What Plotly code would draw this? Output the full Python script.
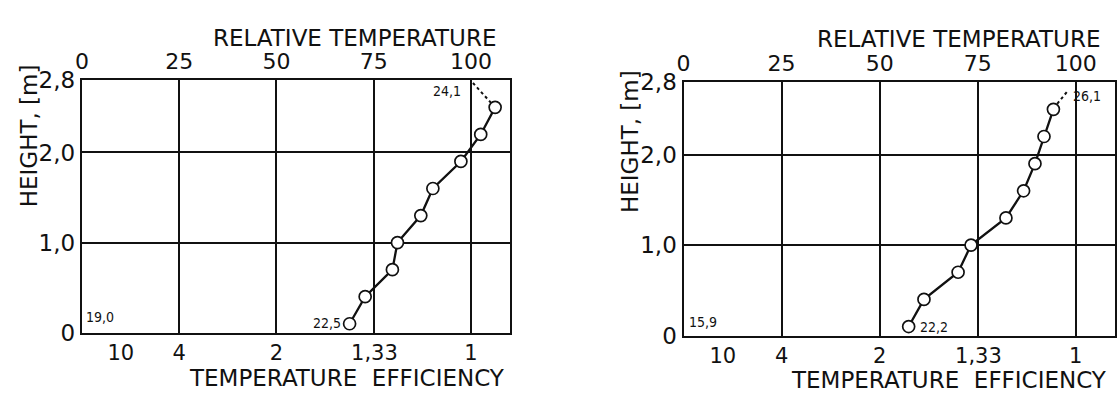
import plotly.graph_objects as go

# Measuring heights above the floor, m
heights = [0.1, 0.4, 0.7, 1.0, 1.3, 1.6, 1.9, 2.2, 2.5]

# Relative temperature profiles, %
left_rel_temp = [68.8, 72.8, 79.8, 81.1, 87.1, 90.2, 97.4, 102.5, 106.2]
right_rel_temp = [57.4, 61.3, 70.0, 73.3, 82.2, 86.7, 89.6, 91.9, 94.3]

# Dotted extension from the top measurement up toward the ceiling
left_ext_x = [106.2, 100.3]
left_ext_y = [2.5, 2.78]
right_ext_x = [94.3, 97.7]
right_ext_y = [2.51, 2.69]

# Axis ticks
rel_ticks = [0, 25, 50, 75, 100]
eff_ticks = [10, 4, 2, 1.33, 1]
eff_labels = ["10", "4", "2", "1,33", "1"]
height_ticks = [0, 1.0, 2.0, 2.8]
height_labels = ["0", "1,0", "2,0", "2,8"]

# Temperature readings written on the panels (°C)
left_notes = [("19,0", 0.6, 0.18, "left"), ("22,5", 67.1, 0.11, "right"), ("24,1", 98.0, 2.68, "right")]
right_notes = [("15,9", 0.8, 0.145, "left"), ("22,2", 59.8, 0.10, "left"), ("26,1", 98.7, 2.65, "left")]

FONT = "DejaVu Sans"
INK = "#111111"
W, H = 1117, 400
FS = 23

fig = go.Figure()

panels = [
    dict(rel=left_rel_temp, ext=(left_ext_x, left_ext_y), notes=left_notes,
         xdom=[75.5 / W, 507 / W], ydom=[1 - 342 / H, 1 - 72 / H],
         xa="x", xb="x2", ya="y"),
    dict(rel=right_rel_temp, ext=(right_ext_x, right_ext_y), notes=right_notes,
         xdom=[682 / W, 1.0], ydom=[1 - 345 / H, 1 - 74 / H],
         xa="x3", xb="x4", ya="y2"),
]

for p in panels:
    fig.add_trace(go.Scatter(
        x=p["ext"][0], y=p["ext"][1], mode="lines",
        line=dict(color=INK, width=2, dash="dot"),
        xaxis=p["xa"], yaxis=p["ya"], showlegend=False, hoverinfo="skip"))
    fig.add_trace(go.Scatter(
        x=p["rel"], y=heights, mode="lines+markers",
        line=dict(color=INK, width=2.3),
        marker=dict(symbol="circle", size=12, color="white",
                    line=dict(color=INK, width=1.7)),
        xaxis=p["xa"], yaxis=p["ya"], showlegend=False))
    # the efficiency scale shares the same profile; bind it so its axis is drawn
    fig.add_trace(go.Scatter(
        x=p["rel"], y=heights, mode="markers", marker=dict(opacity=0),
        xaxis=p["xb"], yaxis=p["ya"], showlegend=False, hoverinfo="skip"))
    for text, xv, yv, anchor in p["notes"]:
        fig.add_annotation(x=xv, y=yv, xref=p["xa"], yref=p["ya"], text=text,
                           showarrow=False, xanchor=anchor, yanchor="middle",
                           font=dict(family="DejaVu Sans Condensed", size=14, color=INK))

axis_common = dict(range=[0, 110], showline=True, linecolor=INK, linewidth=2.2,
                   ticks="", zeroline=False, fixedrange=True)

layout = dict(
    width=W, height=H, autosize=False,
    margin=dict(l=0, r=0, t=0, b=0),
    paper_bgcolor="white", plot_bgcolor="white",
    font=dict(family=FONT, size=FS, color=INK),
    showlegend=False,
)

for p, (top, bot, yname) in zip(panels, [("xaxis", "xaxis2", "yaxis"), ("xaxis3", "xaxis4", "yaxis2")]):
    layout[top] = dict(axis_common, domain=p["xdom"], side="top", anchor=p["ya"],
                       tickmode="array", tickvals=rel_ticks,
                       ticktext=[str(v) for v in rel_ticks],
                       showgrid=True, gridcolor=INK, gridwidth=2, mirror=True,
                       tickfont=dict(size=22))
    layout[bot] = dict(axis_common, overlaying=p["xa"], side="bottom", anchor=p["ya"],
                       tickmode="array", tickvals=[100 / e for e in eff_ticks],
                       ticktext=eff_labels, showgrid=False,
                       tickfont=dict(size=21))
    layout[yname] = dict(domain=p["ydom"], range=[0, 2.8], anchor=p["xa"],
                         tickmode="array", tickvals=height_ticks, ticktext=height_labels,
                         showgrid=True, gridcolor=INK, gridwidth=2,
                         showline=True, linecolor=INK, linewidth=2.2, mirror=True,
                         ticks="", zeroline=False, fixedrange=True,
                         tickfont=dict(size=FS))

fig.update_layout(**layout)

# Axis titles
titles = [
    ("RELATIVE TEMPERATURE", 350, 27, 0),
    ("TEMPERATURE  EFFICIENCY", 343, 390, 0),
    ("RELATIVE TEMPERATURE", 959, 28, 0),
    ("TEMPERATURE  EFFICIENCY", 950, 393, 0),
    ("HEIGHT, [m]", 23, 131, -90),
    ("HEIGHT, [m]", 628, 137, -90),
]
for text, px, py, ang in titles:
    fig.add_annotation(x=px / W, y=1 - py / H, xref="paper", yref="paper",
                       text=text, showarrow=False, textangle=ang,
                       xanchor="center", yanchor="middle",
                       font=dict(family=FONT, size=FS, color=INK))

fig.write_html("out.html")
